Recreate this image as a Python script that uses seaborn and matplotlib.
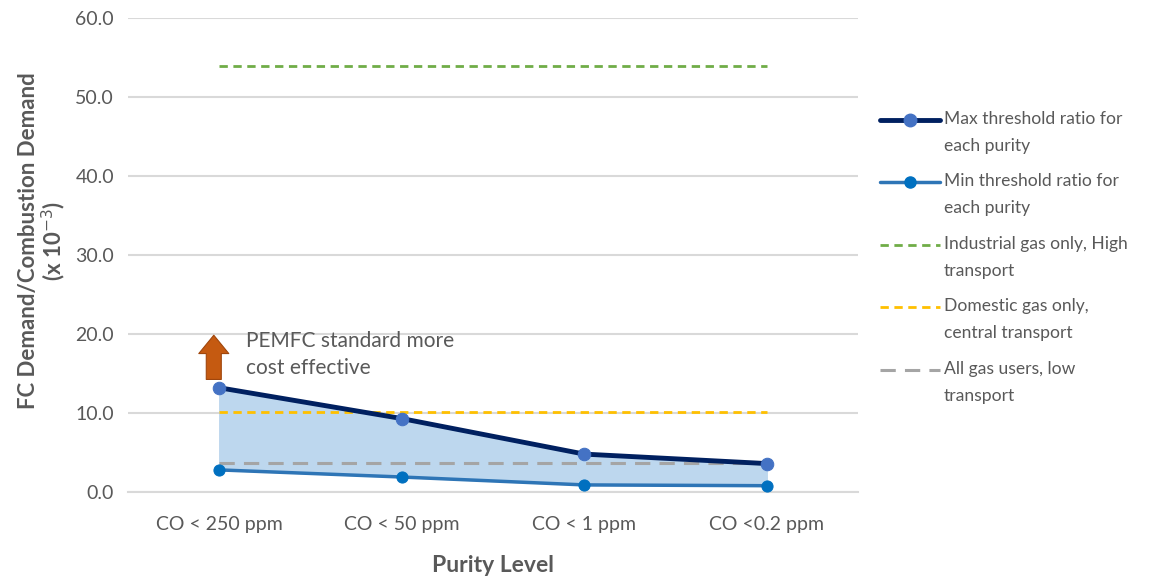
import numpy as np
import pandas as pd
import seaborn as sns
from matplotlib import pyplot as plt
from matplotlib.lines import Line2D

# data
purity = ["CO < 250 ppm", "CO < 50 ppm", "CO < 1 ppm", "CO <0.2 ppm"]
max_ratio = [13.2, 9.3, 4.8, 3.6]
min_ratio = [2.8, 1.9, 0.9, 0.8]
industrial_level = 53.9
domestic_level = 10.1
all_users_level = 3.7

sns.set_theme(style="white")
plt.rcParams["font.family"] = ["Lato", "DejaVu Sans"]

grey = "#595959"
W, H = 1168, 582
df = pd.DataFrame({"pos": np.arange(len(purity)), "max": max_ratio, "min": min_ratio})

fig = plt.figure(figsize=(W / 100, H / 100), dpi=100)
ax = fig.add_axes([0.1096, 0.1546, 0.625, 0.8144])

# shaded band between min and max
ax.fill_between(df["pos"], df["min"], df["max"], color="#BDD7EE", zorder=1)

# reference levels
ax.hlines(industrial_level, 0, 3, colors="#70AD47", linestyles=(0, (3, 2)), linewidth=2, zorder=2)
ax.hlines(domestic_level, 0, 3, colors="#FFC000", linestyles=(0, (3, 2)), linewidth=2, zorder=2)
ax.hlines(all_users_level, 0, 3, colors="#A5A5A5", linestyles=(0, (5, 3)), linewidth=2.2, zorder=2)

sns.lineplot(data=df, x="pos", y="min", ax=ax, color="#2E75B6", linewidth=2.5,
             marker="o", markersize=8, markerfacecolor="#0070C0", markeredgecolor="#0070C0", zorder=3)
sns.lineplot(data=df, x="pos", y="max", ax=ax, color="#002060", linewidth=3.5,
             marker="o", markersize=9, markerfacecolor="#4472C4", markeredgecolor="#4472C4", zorder=4)

# arrow + annotation
ax.annotate("", xy=(-0.03, 20.2), xytext=(-0.03, 13.9),
            arrowprops=dict(arrowstyle="simple,head_width=1.8,head_length=1.1,tail_width=0.9",
                            fc="#C55A11", ec="#A0460C", lw=0.8), zorder=5)
ax.text(0.147, 20.4, "PEMFC standard more\ncost effective", color=grey, fontsize=15,
        va="top", ha="left", linespacing=1.45)

ax.set_xlim(-0.5, 3.5)
ax.set_ylim(0, 60)
ax.set_xticks(df["pos"])
ax.set_xticklabels(purity)
ax.set_yticks(np.arange(0, 61, 10))
ax.set_yticklabels([f"{v:.1f}" for v in np.arange(0, 61, 10)])
ax.tick_params(axis="both", colors=grey, labelsize=14, length=0)
ax.tick_params(axis="x", pad=17)
ax.tick_params(axis="y", pad=10)
ax.yaxis.grid(True, color="#D9D9D9", linewidth=1.5)
ax.set_axisbelow(True)
for s in ["top", "right", "left"]:
    ax.spines[s].set_visible(False)
ax.spines["bottom"].set_color("#D9D9D9")
ax.spines["bottom"].set_linewidth(1.5)

ax.set_xlabel("Purity Level", color=grey, fontsize=16.5, fontweight="bold", labelpad=16)
ax.set_ylabel("FC Demand/Combustion Demand\n(x 10$^{-3}$)", color=grey, fontsize=16,
              fontweight="bold", linespacing=1.05)
ax.yaxis.set_label_coords(-0.082, 0.53)

# legend drawn by hand so each marker sits on the first text line, as in the reference
handles = [
    dict(color="#002060", lw=3.5, marker="o", ms=9, mfc="#4472C4", mec="#4472C4"),
    dict(color="#2E75B6", lw=2.5, marker="o", ms=8, mfc="#0070C0", mec="#0070C0"),
    dict(color="#70AD47", lw=2, ls=(0, (3, 2))),
    dict(color="#FFC000", lw=2, ls=(0, (3, 2))),
    dict(color="#A5A5A5", lw=2.2, ls=(0, (5, 3))),
]
labels = [
    "Max threshold ratio for\neach purity",
    "Min threshold ratio for\neach purity",
    "Industrial gas only, High\ntransport",
    "Domestic gas only,\ncentral transport",
    "All gas users, low\ntransport",
]
for i, (style, label) in enumerate(zip(handles, labels)):
    y = 1 - (120 + 62.4 * i) / H
    has_marker = "marker" in style
    line_style = {k: v for k, v in style.items() if k not in ("marker", "ms", "mfc", "mec")}
    fig.add_artist(Line2D([880 / W, 940 / W], [y, y], transform=fig.transFigure, **line_style))
    if has_marker:
        fig.add_artist(Line2D([910 / W], [y], transform=fig.transFigure, lw=0, marker=style["marker"],
                              ms=style["ms"], mfc=style["mfc"], mec=style["mec"]))
    fig.text(944 / W, y + 9 / H, label, color=grey, fontsize=12.6, va="top", ha="left",
             linespacing=1.85)

fig.savefig("out.png", dpi=100)
